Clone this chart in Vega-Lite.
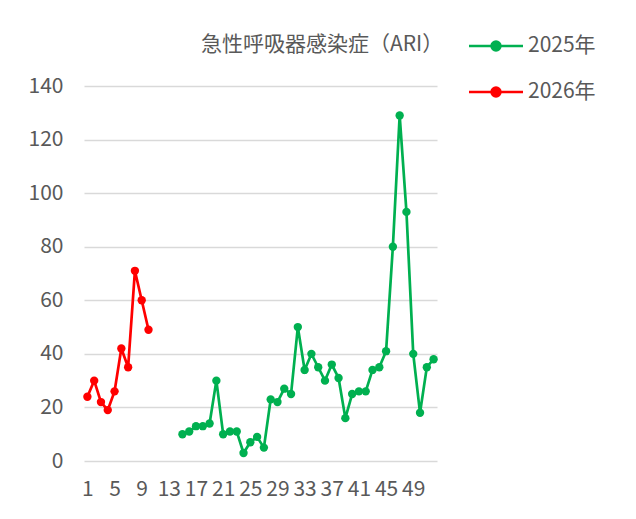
{
  "$schema": "https://vega.github.io/schema/vega-lite/v6.json",
  "autosize": {"type": "none"},
  "padding": {"left": 84, "top": 86, "right": 199, "bottom": 58},
  "width": 353,
  "height": 375,
  "background": "white",
  "title": {
    "text": "急性呼吸器感染症（ARI）",
    "anchor": "start",
    "frame": "group",
    "dx": 117,
    "offset": -24,
    "font": "Noto Sans CJK JP",
    "fontSize": 21,
    "fontWeight": "normal",
    "color": "#595959"
  },
  "config": {
    "view": {"stroke": null},
    "font": "Noto Sans CJK JP"
  },
  "data": {
    "values": [
      {"week": 1, "year": "2026年", "value": 24},
      {"week": 2, "year": "2026年", "value": 30},
      {"week": 3, "year": "2026年", "value": 22},
      {"week": 4, "year": "2026年", "value": 19},
      {"week": 5, "year": "2026年", "value": 26},
      {"week": 6, "year": "2026年", "value": 42},
      {"week": 7, "year": "2026年", "value": 35},
      {"week": 8, "year": "2026年", "value": 71},
      {"week": 9, "year": "2026年", "value": 60},
      {"week": 10, "year": "2026年", "value": 49},
      {"week": 15, "year": "2025年", "value": 10},
      {"week": 16, "year": "2025年", "value": 11},
      {"week": 17, "year": "2025年", "value": 13},
      {"week": 18, "year": "2025年", "value": 13},
      {"week": 19, "year": "2025年", "value": 14},
      {"week": 20, "year": "2025年", "value": 30},
      {"week": 21, "year": "2025年", "value": 10},
      {"week": 22, "year": "2025年", "value": 11},
      {"week": 23, "year": "2025年", "value": 11},
      {"week": 24, "year": "2025年", "value": 3},
      {"week": 25, "year": "2025年", "value": 7},
      {"week": 26, "year": "2025年", "value": 9},
      {"week": 27, "year": "2025年", "value": 5},
      {"week": 28, "year": "2025年", "value": 23},
      {"week": 29, "year": "2025年", "value": 22},
      {"week": 30, "year": "2025年", "value": 27},
      {"week": 31, "year": "2025年", "value": 25},
      {"week": 32, "year": "2025年", "value": 50},
      {"week": 33, "year": "2025年", "value": 34},
      {"week": 34, "year": "2025年", "value": 40},
      {"week": 35, "year": "2025年", "value": 35},
      {"week": 36, "year": "2025年", "value": 30},
      {"week": 37, "year": "2025年", "value": 36},
      {"week": 38, "year": "2025年", "value": 31},
      {"week": 39, "year": "2025年", "value": 16},
      {"week": 40, "year": "2025年", "value": 25},
      {"week": 41, "year": "2025年", "value": 26},
      {"week": 42, "year": "2025年", "value": 26},
      {"week": 43, "year": "2025年", "value": 34},
      {"week": 44, "year": "2025年", "value": 35},
      {"week": 45, "year": "2025年", "value": 41},
      {"week": 46, "year": "2025年", "value": 80},
      {"week": 47, "year": "2025年", "value": 129},
      {"week": 48, "year": "2025年", "value": 93},
      {"week": 49, "year": "2025年", "value": 40},
      {"week": 50, "year": "2025年", "value": 18},
      {"week": 51, "year": "2025年", "value": 35},
      {"week": 52, "year": "2025年", "value": 38}
    ]
  },
  "mark": {"type": "line", "strokeWidth": 2.7, "point": {"filled": true, "size": 70}},
  "encoding": {
    "x": {
      "field": "week",
      "type": "quantitative",
      "scale": {"domain": [0.5, 52.5], "nice": false, "zero": false},
      "axis": {
        "title": null,
        "values": [1, 5, 9, 13, 17, 21, 25, 29, 33, 37, 41, 45, 49],
        "grid": false,
        "domain": false,
        "ticks": false,
        "tickSize": 0,
        "labelPadding": 17,
        "labelBaseline": "top",
        "labelOverlap": false,
        "labelFlush": false,
        "labelBound": false,
        "labelFont": "Noto Sans CJK JP",
        "labelFontSize": 21,
        "labelColor": "#595959"
      }
    },
    "y": {
      "field": "value",
      "type": "quantitative",
      "scale": {"domain": [0, 140], "nice": false},
      "axis": {
        "title": null,
        "values": [0, 20, 40, 60, 80, 100, 120, 140],
        "grid": true,
        "gridColor": "#D9D9D9",
        "gridWidth": 1.5,
        "domain": false,
        "ticks": false,
        "tickSize": 0,
        "labelPadding": 21,
        "labelFont": "Noto Sans CJK JP",
        "labelFontSize": 21,
        "labelColor": "#595959"
      }
    },
    "color": {
      "field": "year",
      "type": "nominal",
      "scale": {"domain": ["2025年", "2026年"], "range": ["#00B050", "#FF0000"]},
      "legend": {
        "title": null,
        "orient": "none",
        "legendX": 397,
        "legendY": -55,
        "symbolType": "M-2,0H2M-0.33,0A0.33,0.33 0 1,1 0.33,0A0.33,0.33 0 1,1 -0.33,0Z",
        "symbolSize": 729,
        "symbolStrokeWidth": 2.5,
        "labelOffset": 17,
        "rowPadding": 21,
        "labelFont": "Noto Sans CJK JP",
        "labelFontSize": 21,
        "labelColor": "#595959"
      }
    }
  }
}
